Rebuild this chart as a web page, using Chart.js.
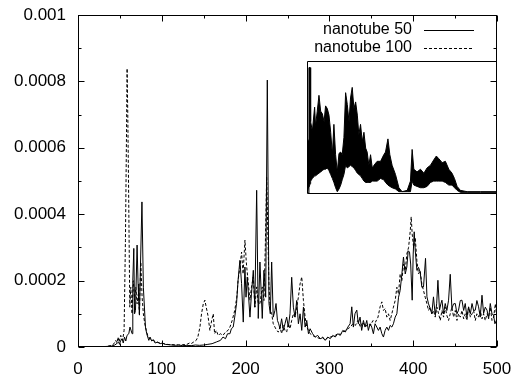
<!DOCTYPE html>
<html>
<head>
<meta charset="utf-8">
<script src="https://cdn.jsdelivr.net/npm/chart.js@4.4.1/dist/chart.umd.min.js"></script>
<style>
  html, body { margin: 0; padding: 0; background: #fff; }
  #wrap { position: relative; width: 514px; height: 377px; }
  #main { position: absolute; left: 0; top: 0; }
  #inset { position: absolute; left: 307px; top: 61px; }
</style>
</head>
<body>
<div id="wrap">
  <canvas id="main" width="514" height="377"></canvas>
  <canvas id="inset" width="190" height="133"></canvas>
</div>
<script>
// main plot, y values in units of 1e-4
const solidX = [
  0, 10, 20, 30, 36, 40, 44, 47, 48.6, 49.5,
  51, 52.6, 54, 55.5, 57, 58.5, 60.6, 62, 64.6, 65.4,
  66.6, 67.5, 68.6, 70.5, 71.7, 72.5, 73.3, 74.5, 76.3, 78,
  80.5, 82, 84.5, 86, 88, 90, 92, 95, 98, 101,
  104, 108, 112, 116, 120, 125, 130, 135, 140, 145,
  150, 155, 160, 165, 170, 173, 176, 178.5, 181.3, 183,
  185.2, 187, 189.2, 191, 193.2, 195.2, 197.2, 199.2, 200.5, 202,
  205.2, 207, 209.2, 211, 213.2, 215.1, 217.1, 219.9, 221.9, 224,
  225.9, 227.9, 229.5, 231.1, 233, 235, 236.3, 238, 239.5, 241,
  243, 245, 247, 249, 251, 253, 255, 257, 259, 261,
  263, 265, 267, 269, 271, 273, 275, 277, 280, 283,
  286, 289, 292, 295, 298, 301, 304, 307, 310, 313,
  316, 319, 322, 324.7, 326.7, 328.6, 330.5, 332.7, 334.5, 336.6,
  338.5, 340.6, 342.5, 344.6, 346.5, 348.6, 350.5, 352.5, 354.5, 356.6,
  358.5, 360.5, 362.6, 364.5, 366.5, 368.5, 370.5, 372.5, 374.5, 376.4,
  378.5, 380.5, 382.5, 384.4, 386.5, 388.4, 390.5, 392.4, 394, 395.6,
  397, 398.8, 400, 401.2, 402.4, 404.4, 406.3, 408.3, 410.3, 412.3,
  414.7, 416.4, 418.3, 420.3, 422.2, 424.2, 426.3, 428, 429.5, 431.4,
  433, 434.3, 436.2, 438.2, 440.2, 442.2, 444.2, 446.2, 448.2, 450.2,
  452.2, 454.1, 456.2, 458.2, 460.2, 462.1, 464.1, 466.1, 468.2, 470.2,
  472.1, 474.1, 476, 478, 480, 482.1, 484, 486, 488.1, 490,
  492, 494, 495.9, 497.5, 499.2, 500
];
const solidY = [
  0, 0, 0, 0.01, 0.02, 0.03, 0.06, 0.12, 0.15, 0.08,
  0.2, 0.25, 0.12, 0.3, 0.18, 0.35, 0.4, 0.6, 0.4, 2.0,
  2.97, 1.0, 1.1, 3.07, 1.9, 1.4, 0.96, 2.4, 4.37, 1.8,
  0.6, 0.4, 0.2, 0.3, 0.18, 0.22, 0.12, 0.15, 0.1, 0.12,
  0.08, 0.07, 0.06, 0.05, 0.06, 0.04, 0.05, 0.04, 0.06, 0.05,
  0.06, 0.08, 0.1, 0.15, 0.2, 0.3, 0.25, 0.4, 0.4, 0.55,
  0.6, 0.9, 1.31, 2.0, 2.61, 1.91, 0.75, 2.41, 1.5, 2.11,
  0.9, 1.6, 2.31, 1.2, 4.72, 0.86, 2.56, 0.86, 2.31, 1.5,
  8.04, 1.31, 1.0, 2.56, 0.9, 1.1, 1.31, 0.8, 0.7, 0.55,
  0.85, 0.5, 0.7, 0.9, 0.6, 1.0, 2.1, 1.2, 0.9, 1.4,
  0.7, 1.0, 0.5, 1.2, 0.6, 0.8, 0.4, 0.55, 0.4, 0.3,
  0.35, 0.25, 0.28, 0.2, 0.3, 0.25, 0.35, 0.3, 0.4, 0.35,
  0.5, 0.45, 0.6, 0.7, 1.21, 0.6, 1.0, 1.11, 0.7, 0.9,
  0.5, 0.8, 0.6, 0.8, 0.5, 0.7, 0.6, 0.4, 0.7, 0.6,
  0.5, 0.6, 0.4, 0.3, 0.5, 0.6, 0.5, 0.65, 0.6, 0.7,
  0.9, 1.0, 1.5, 1.7, 2.2, 2.71, 2.2, 2.41, 2.9, 2.86,
  2.5, 1.41, 2.8, 3.47, 2.92, 2.31, 2.4, 2.26, 1.8, 1.81,
  2.67, 1.51, 1.3, 1.16, 1.0, 1.51, 0.96, 1.3, 2.01, 1.11,
  1.3, 1.41, 1.0, 1.31, 1.1, 1.41, 2.19, 1.16, 1.3, 1.31,
  1.0, 1.11, 1.4, 1.41, 1.1, 1.31, 0.9, 1.21, 1.0, 1.31,
  1.1, 1.11, 1.4, 1.21, 0.9, 1.56, 1.01, 1.2, 1.11, 0.85,
  1.31, 1.0, 0.96, 0.7, 0.8, 0.85
];
const dashedX = [
  0, 10, 20, 30, 35, 40, 43, 45, 46.5, 47.8,
  49, 51, 52.5, 53.8, 55, 56.6, 57.8, 58.6, 59.4, 60.2,
  61.8, 63, 64.5, 66, 67.5, 69, 70.5, 72, 73.3, 74.9,
  76.5, 78, 79.7, 81.5, 83.7, 86, 89.6, 93, 97.6, 102,
  106, 110, 115, 120, 125, 130, 133, 135, 138, 141,
  143, 145.5, 147.4, 149.5, 151.4, 153, 155, 157.4, 159.5, 161.4,
  163, 165, 167.3, 170, 173, 176, 179, 181.3, 184, 187,
  189.5, 191, 193.2, 195.2, 197, 199.2, 201, 202.5, 205.2, 207,
  209.2, 211, 213.2, 215.1, 217.1, 219.9, 221.9, 223.5, 225.1, 226.5,
  227.9, 229.5, 231.1, 233, 235, 237, 239, 241, 243, 245,
  247, 249, 251, 253, 255, 257, 259, 261, 263, 265,
  267, 269, 271, 273, 275, 277, 280, 283, 286, 289,
  292, 295, 298, 301, 304, 307, 310, 313, 316, 319,
  322, 325, 328, 331, 334, 337, 340, 343, 346, 349,
  352, 355, 358, 360.5, 362.6, 364.5, 366.5, 368.5, 370.5, 372.5,
  374.5, 376.4, 378.5, 380.5, 382.5, 384.4, 386.5, 388.4, 390.5, 392.4,
  394.5, 396.5, 397.6, 398.8, 400.5, 402.4, 404.4, 406.3, 408.3, 410.3,
  412.3, 414.3, 416.4, 418.3, 420.3, 422.2, 424.2, 426.3, 428.3, 430.3,
  432.3, 434.3, 436.2, 438.2, 440.2, 442.2, 444.2, 446.2, 448.2, 450.2,
  452.2, 454.1, 456.2, 458.2, 460.2, 462.1, 464.1, 466.1, 468.2, 470.2,
  472.1, 474.1, 476, 478, 480, 482.1, 484, 486, 488.1, 490,
  492, 494, 496, 498, 500
];
const dashedY = [
  0, 0, 0, 0.01, 0.02, 0.05, 0.1, 0.2, 0.12, 0.3,
  0.15, 0.35, 0.2, 0.3, 0.5, 3.2, 6.2, 8.39, 7.0, 5.2,
  1.2, 1.8, 1.0, 2.0, 1.4, 1.8, 1.3, 1.6, 1.0, 2.56,
  1.5, 1.0, 0.7, 0.5, 0.3, 0.25, 0.2, 0.15, 0.12, 0.1,
  0.08, 0.07, 0.07, 0.06, 0.07, 0.08, 0.12, 0.1, 0.15, 0.2,
  0.3, 0.6, 1.0, 1.3, 1.41, 1.2, 0.96, 0.5, 0.8, 1.0,
  0.4, 0.5, 0.35, 0.4, 0.35, 0.45, 0.5, 0.6, 0.8, 1.1,
  1.5, 2.0, 2.4, 2.86, 2.2, 3.22, 2.5, 2.11, 1.41, 1.8,
  2.11, 1.2, 1.81, 1.31, 1.31, 1.81, 1.4, 3.0, 5.13, 3.5,
  1.81, 1.1, 1.0, 0.7, 0.6, 0.5, 0.45, 0.6, 0.4, 0.65,
  0.5, 0.45, 0.7, 0.55, 0.8, 1.0, 0.9, 1.2, 1.5, 1.9,
  2.11, 1.4, 0.9, 0.6, 0.5, 0.4, 0.35, 0.3, 0.28, 0.25,
  0.3, 0.22, 0.28, 0.3, 0.32, 0.35, 0.4, 0.38, 0.45, 0.5,
  0.55, 0.6, 0.7, 0.65, 0.8, 0.6, 0.75, 0.6, 0.7, 0.65,
  0.8, 0.75, 0.9, 1.21, 1.36, 1.1, 1.16, 0.9, 1.0, 0.8,
  1.0, 1.2, 1.4, 1.8, 1.6, 2.2, 2.0, 2.5, 2.3, 2.8,
  3.0, 3.5, 3.92, 3.4, 3.0, 3.3, 2.6, 2.2, 2.3, 1.9,
  1.7, 1.5, 1.3, 1.1, 1.2, 1.0, 1.1, 0.9, 1.2, 1.0,
  0.8, 1.1, 0.9, 1.2, 0.95, 0.8, 1.0, 1.2, 0.9, 1.1,
  0.8, 1.0, 0.9, 1.1, 0.85, 1.0, 0.8, 1.2, 0.9, 1.0,
  1.1, 0.8, 1.0, 0.9, 1.1, 0.85, 1.0, 0.8, 1.0, 0.9,
  1.2, 0.8, 0.9, 1.3, 0.8
];
const yTickLabels = ['0', '0.0002', '0.0004', '0.0006', '0.0008', '0.001'];

// inset: band between lower and upper envelope, arbitrary units 0..100
const insetX = [
  0, 0.5, 1.1, 1.4, 2.3, 3.5, 4.0, 4.9, 5.8, 6.7,
  7.6, 8.5, 9.3, 10.2, 11.1, 12.0, 12.9, 13.7, 14.6, 15.5,
  16.4, 17.3, 18.1, 19.0, 19.9, 20.8, 21.7, 22.5, 23.4, 24.3,
  25.2, 26.1, 26.9, 27.8, 28.7, 29.6, 30.5, 31.3, 32.2, 33.1,
  34.0, 34.9, 36.6, 38.4, 40.1, 41.0, 42.3, 43.3, 44.5, 46.3,
  48.1, 49.8, 52.5, 54.2, 55.1, 56.0, 57.7, 59.5, 61.3, 63.0,
  64.8, 66.5, 67.9, 69.2, 71.0, 72.7, 74.5, 76.2, 77.5, 78.9,
  80.6, 84.2, 91.2, 100
];
const insetUpper = [
  40, 95, 95, 54, 47, 65, 51, 62, 74, 62,
  60, 54, 66, 64, 59, 46, 29, 52, 29, 16,
  30, 31, 29, 42, 76, 67, 54, 72, 80, 64,
  69, 59, 44, 52, 39, 46, 34, 31, 21, 29,
  19, 21, 24, 24, 29, 31, 41, 29, 21, 14,
  4, 1, 2, 9, 33, 18, 16, 18, 15, 19,
  21, 25, 28, 26, 23, 24, 18, 15, 11, 5,
  2, 1, 1, 1
];
const insetLower = [
  0, 4, 7, 9, 11, 13, 13, 14, 15, 16,
  17, 18, 18, 19, 17, 14, 11, 8, 4, 1,
  3, 6, 10, 14, 21, 19, 20, 21, 20, 19,
  17, 15, 14, 13, 11, 9, 8, 8, 8, 8,
  9, 9, 9, 11, 10, 8, 6, 5, 4, 3,
  1, 1, 1, 1, 9, 6, 5, 4, 4, 5,
  8, 9, 9, 9, 9, 8, 6, 6, 4, 2,
  0.5, 0.5, 0.5, 0.5
];

const font = { family: 'Liberation Sans', size: 17 };

// gnuplot style box with inward ticks on all four sides
const frame = {
  id: 'frame',
  afterDraw(chart) {
    const ctx = chart.ctx;
    const a = chart.chartArea;
    const xs = chart.scales.x, ys = chart.scales.y;
    const L = Math.round(a.left) + 0.5, R = Math.round(a.right) - 0.5;
    const T = Math.round(a.top) + 0.5, B = Math.round(a.bottom) - 0.5;
    ctx.save();
    ctx.strokeStyle = '#000';
    ctx.lineWidth = 1;
    ctx.strokeRect(L, T, R - L, B - T);
    ctx.beginPath();
    const xt = xs.ticks.map(t => t.value);
    xt.forEach((v, i) => {
      const px = Math.round(xs.getPixelForValue(v)) + 0.5;
      ctx.moveTo(px, B); ctx.lineTo(px, B - 6);
      ctx.moveTo(px, T); ctx.lineTo(px, T + 6);
      if (i < xt.length - 1) {
        const mx = Math.round(xs.getPixelForValue((v + xt[i + 1]) / 2)) + 0.5;
        ctx.moveTo(mx, B); ctx.lineTo(mx, B - 3);
        ctx.moveTo(mx, T); ctx.lineTo(mx, T + 3);
      }
    });
    const yt = ys.ticks.map(t => t.value);
    yt.forEach((v, i) => {
      const py = Math.round(ys.getPixelForValue(v)) + 0.5;
      ctx.moveTo(L, py); ctx.lineTo(L + 6, py);
      ctx.moveTo(R, py); ctx.lineTo(R - 6, py);
      if (i < yt.length - 1) {
        const my = Math.round(ys.getPixelForValue((v + yt[i + 1]) / 2)) + 0.5;
        ctx.moveTo(L, my); ctx.lineTo(L + 3, my);
        ctx.moveTo(R, my); ctx.lineTo(R - 3, my);
      }
    });
    ctx.stroke();

    // key: text right-aligned, sample line to its right
    ctx.font = '16px ' + font.family;
    ctx.fillStyle = '#000';
    ctx.textAlign = 'right';
    ctx.textBaseline = 'middle';
    chart.data.datasets.forEach((ds, i) => {
      const y = 29.5 + i * 18.4;
      ctx.fillText(ds.label, 412, y);
      ctx.beginPath();
      ctx.setLineDash(ds.borderDash || []);
      ctx.moveTo(424, Math.round(y) + 0.5);
      ctx.lineTo(474, Math.round(y) + 0.5);
      ctx.stroke();
    });
    ctx.restore();
  }
};

new Chart(document.getElementById('main'), {
  type: 'line',
  data: {
    datasets: [
      {
        label: 'nanotube 50',
        data: solidX.map((x, i) => ({ x: x, y: solidY[i] * 1e-4 })),
        borderColor: '#000',
        borderWidth: 1,
        pointRadius: 0,
        tension: 0
      },
      {
        label: 'nanotube 100',
        data: dashedX.map((x, i) => ({ x: x, y: dashedY[i] * 1e-4 })),
        borderColor: '#000',
        borderWidth: 1,
        borderDash: [3, 2],
        pointRadius: 0,
        tension: 0
      }
    ]
  },
  options: {
    responsive: false,
    animation: false,
    devicePixelRatio: 1,
    layout: { padding: { top: 15, right: 17, left: 0, bottom: 0 }, autoPadding: false },
    plugins: { legend: { display: false }, tooltip: { enabled: false } },
    scales: {
      x: {
        type: 'linear', min: 0, max: 500,
        grid: { display: false, drawTicks: false },
        border: { display: false },
        ticks: { stepSize: 100, padding: 12, color: '#000', font: font, maxRotation: 0, autoSkip: false },
        afterFit: s => { s.height = 30; s.paddingLeft = 0; s.paddingRight = 0; }
      },
      y: {
        type: 'linear', min: 0, max: 0.001,
        grid: { display: false, drawTicks: false },
        border: { display: false },
        ticks: {
          stepSize: 0.0002, padding: 12, color: '#000', font: font, autoSkip: false,
          callback: v => yTickLabels[Math.round(v / 0.0002)]
        },
        afterFit: s => { s.width = 78; s.paddingTop = 0; s.paddingBottom = 0; }
      }
    }
  },
  plugins: [frame]
});

const insetFrame = {
  id: 'insetFrame',
  afterDraw(chart) {
    const ctx = chart.ctx;
    const w = chart.width, h = chart.height;
    ctx.save();
    ctx.strokeStyle = '#000';
    ctx.lineWidth = 1;
    ctx.beginPath();
    ctx.moveTo(w, 0.5);
    ctx.lineTo(0.5, 0.5);
    ctx.lineTo(0.5, h - 0.5);
    ctx.lineTo(w, h - 0.5);
    ctx.stroke();
    ctx.restore();
  }
};

new Chart(document.getElementById('inset'), {
  type: 'line',
  data: {
    datasets: [
      {
        data: insetX.map((x, i) => ({ x: x, y: insetLower[i] })),
        borderColor: '#000', borderWidth: 1, pointRadius: 0, fill: false
      },
      {
        data: insetX.map((x, i) => ({ x: x, y: insetUpper[i] })),
        borderColor: '#000', borderWidth: 1, pointRadius: 0,
        backgroundColor: '#000', fill: '-1'
      }
    ]
  },
  options: {
    responsive: false,
    animation: false,
    devicePixelRatio: 1,
    layout: { padding: { top: 0, right: 0, left: 1, bottom: 1 }, autoPadding: false },
    plugins: { legend: { display: false }, tooltip: { enabled: false } },
    scales: {
      x: { type: 'linear', min: 0, max: 100, display: false },
      y: { type: 'linear', min: 0, max: 100, display: false }
    }
  },
  plugins: [insetFrame]
});
</script>
</body>
</html>
